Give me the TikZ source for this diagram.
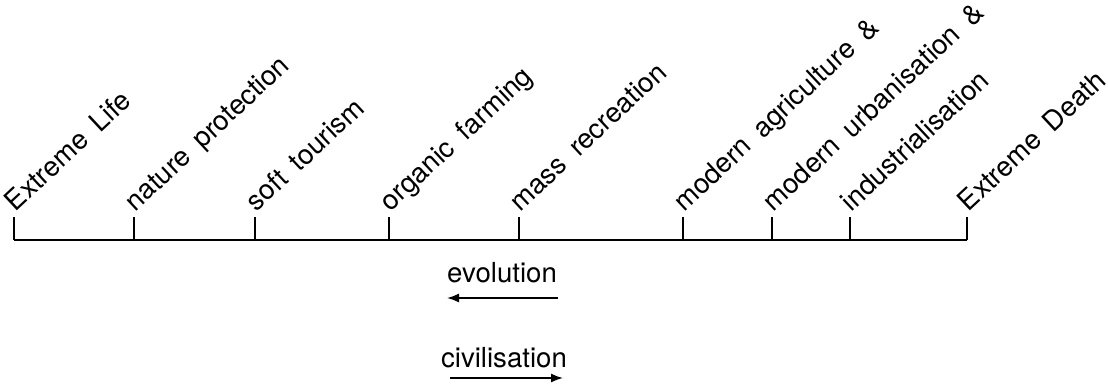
\documentclass[tikz,border=0pt]{standalone}
\usepackage{fontspec}
\setmainfont{TeX Gyre Heros}
\usetikzlibrary{arrows.meta}
\begin{document}
\begin{tikzpicture}[x=0.5pt, y=0.5pt, line width=1pt,
  font=\fontsize{13.8}{16}\selectfont,
  stage/.style={anchor=base west, rotate=43, inner sep=0pt,
    execute at begin node={\spaceskip=0.5em\relax}},
  flow/.style={-{Latex[length=6pt, width=4.5pt]}, line width=0.8pt}]
  \useasboundingbox (0,0) rectangle (1108,390);
  % ends of the scale
  \coordinate (life) at (14,150);
  \coordinate (death) at (967,150);
  \draw (life) -- (death);
  % ticks
  \draw (life) -- ++(0,23) coordinate (tlife);
  \draw (134,150) -- ++(0,23) coordinate (tnature);
  \draw (255,150) -- ++(0,23) coordinate (tsoft);
  \draw (389,150) -- ++(0,23) coordinate (torganic);
  \draw (519,150) -- ++(0,23) coordinate (tmass);
  \draw (683,150) -- ++(0,23) coordinate (tagri);
  \draw (772,150) -- ++(0,23) coordinate (turban);
  \draw (850,150) -- ++(0,23) coordinate (tindus);
  \draw (death) -- ++(0,23) coordinate (tdeath);
  % labels
  \node[stage] (llife) at ([shift={(1,4)}]tlife) {Extreme Life};
  \node[stage] (lnature) at ([shift={(1,4)}]tnature) {nature protection};
  \node[stage] (lsoft) at ([shift={(1,4)}]tsoft) {soft tourism};
  \node[stage] (lorganic) at ([shift={(1,4)}]torganic) {organic farming};
  \node[stage] (lmass) at ([shift={(1,4)}]tmass) {mass recreation};
  \node[stage] (lagri) at ([shift={(1,4)}]tagri) {modern agriculture \&};
  \node[stage] (lurban) at ([shift={(1,4)}]turban) {modern urbanisation \&};
  \node[stage] (lindus) at ([shift={(1,4)}]tindus) {industrialisation};
  \node[stage] (ldeath) at ([shift={(1,4)}]tdeath) {Extreme Death};
  % directions
  \node (evo) at (502,117) {evolution};
  \coordinate (evoR) at (558,92);
  \coordinate (evoL) at (447,92);
  \draw[flow] (evoR) -- (evoL);
  \node (civ) at (504,32) {civilisation};
  \coordinate (civL) at (450,12);
  \coordinate (civR) at (563,12);
  \draw[flow] (civL) -- (civR);
\end{tikzpicture}
\end{document}
